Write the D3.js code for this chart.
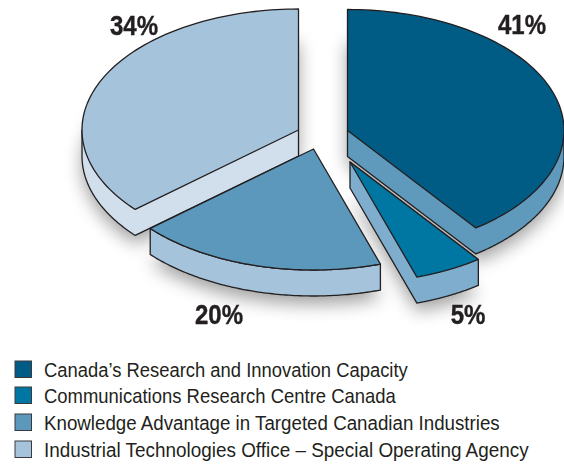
<!DOCTYPE html>
<html><head><meta charset="utf-8">
<script src="https://cdn.jsdelivr.net/npm/d3@7"></script>
<style>html,body{margin:0;padding:0;background:#fff}svg{display:block}</style>
</head><body><svg id="c" width="564" height="464"></svg>
<script>
const categories = ["Canada’s Research and Innovation Capacity","Communications Research Centre Canada","Knowledge Advantage in Targeted Canadian Industries","Industrial Technologies Office – Special Operating Agency"];
const labels = ["41%","5%","20%","34%"];
const drawnShares = [39.9,5.1,18.6,36.4];
const topColors = ["#005b85","#0076a3","#5c98bc","#a5c4db"];
const sideColors = ["#5f9abd","#7fadcd","#a5c4db","#d0dfeb"];
const apexX = [347.5,350,313.5,298.5];
const apexY = [130.5,162,149,130];
const labelX = [522,468,219,134];
const labelY = [34,324,324,35];
const legendY = [361,387,414,441];
const legendBase = [377,403,430,457];
const legendWidths = [364,352,456,485];
const rx=216.5, ry=121, depth=26, ink="#231f20";
const font="'Liberation Sans',Arial,sans-serif", labelSqueeze=.89;

const svg=d3.select("#c");
svg.append("defs").append("filter").attr("id","soft").attr("x","-30%").attr("y","-30%").attr("width","160%").attr("height","160%")
  .append("feGaussianBlur").attr("stdDeviation",9);

const arcs=d3.pie().sort(null).value(d=>d)(drawnShares);
const line=d3.line();
const pt=(i,t,dy=0)=>[apexX[i]+rx*Math.sin(t),apexY[i]-ry*Math.cos(t)+dy];
const sweep=(i,a,b,dy=0)=>d3.range(0,1.0001,1/90).map(u=>pt(i,a+(b-a)*u,dy));
const topPts=(i,a)=>[[apexX[i],apexY[i]],...sweep(i,a.startAngle,a.endAngle)];

// soft shadow
const sh=svg.append("g").attr("filter","url(#soft)").attr("fill","#000").attr("opacity",.38);
arcs.forEach((a,i)=>sh.append("path").attr("d",line(topPts(i,a))+"Z").attr("transform",`translate(0,${depth+8})`));

// sides: one outline per slice, so the fold between a radial face and the rim carries no edge
const g=svg.append("g").attr("stroke",ink).attr("stroke-width",1.3).attr("stroke-linejoin","round");
arcs.forEach((a,i)=>{
  const A=[apexX[i],apexY[i]];
  const startSeen=Math.cos(a.startAngle)<0&&Math.sin(a.startAngle)<0;
  const endSeen=Math.cos(a.endAngle)<0&&Math.sin(a.endAngle)>0;
  const s=Math.max(a.startAngle,Math.PI/2), e=Math.min(a.endAngle,3*Math.PI/2);
  let pts;
  if(endSeen) pts=[A,[A[0],A[1]+depth],...sweep(i,e,s,depth),pt(i,s)];
  else if(startSeen) pts=[A,[A[0],A[1]+depth],...sweep(i,s,e,depth),pt(i,e)];
  else pts=[...sweep(i,s,e),...sweep(i,e,s,depth)];
  g.append("path").attr("fill",sideColors[i]).attr("d",line(pts)+"Z");
});
arcs.forEach((a,i)=>{
  g.append("path").attr("fill",topColors[i]).attr("d",line(topPts(i,a))+"Z");
});

// percent labels
svg.append("g").selectAll("text").data(labels).join("text")
  .attr("transform",(d,i)=>`translate(${labelX[i]},${labelY[i]}) scale(${labelSqueeze},1)`)
  .attr("text-anchor","middle").attr("font-family",font).attr("font-weight","700")
  .attr("font-size",27).attr("fill",ink).attr("stroke",ink).attr("stroke-width",.4).text(d=>d);

// legend
const lg=svg.append("g").selectAll("g").data(categories).join("g");
lg.append("rect").attr("x",15).attr("y",(d,i)=>legendY[i]).attr("width",16.5).attr("height",16.5)
  .attr("fill",(d,i)=>topColors[i]).attr("stroke","#3a3a3c").attr("stroke-width",1);
lg.append("text").attr("font-family",font).attr("font-size",21).attr("fill",ink).text(d=>d)
  .attr("transform",function(d,i){
    return `translate(44,${legendBase[i]}) scale(${legendWidths[i]/this.getComputedTextLength()},1)`;
  });
</script></body></html>
